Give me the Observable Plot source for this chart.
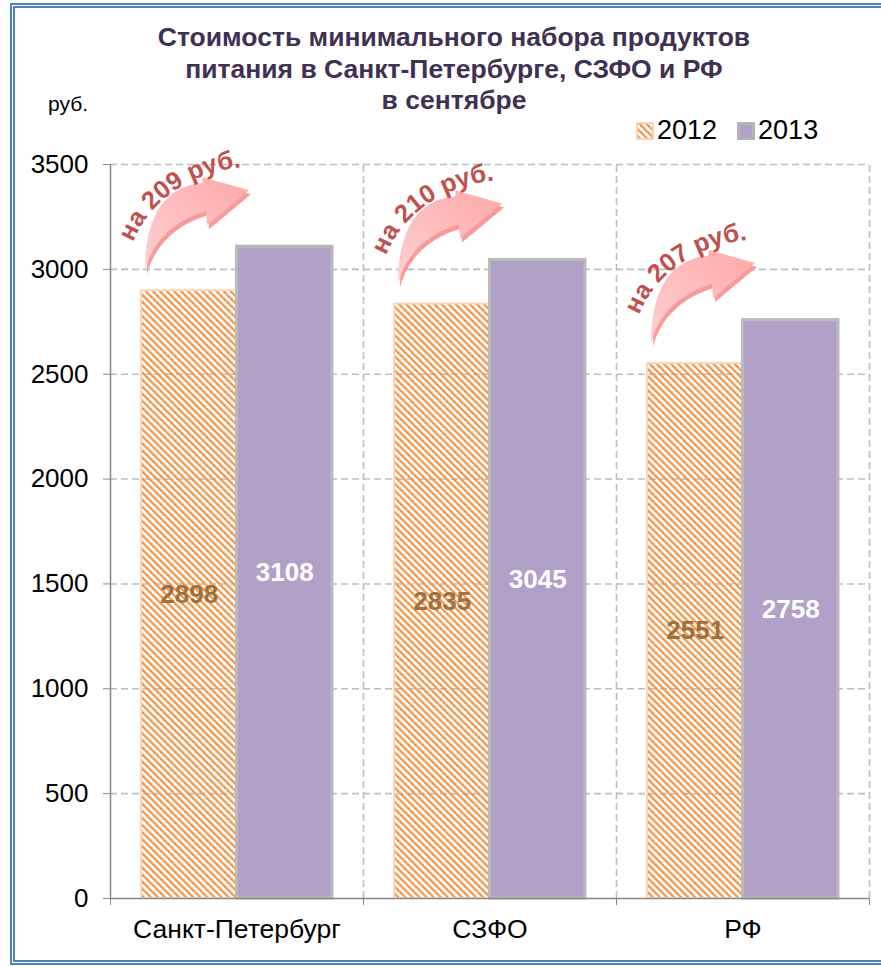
<!DOCTYPE html>
<html><head><meta charset="utf-8">
<script src="https://cdn.jsdelivr.net/npm/d3@7"></script>
<script src="https://cdn.jsdelivr.net/npm/@observablehq/plot@0.6"></script>
<style>
html,body{margin:0;padding:0;overflow:hidden;background:#fff;}
#wrap{position:relative;width:881px;height:966px;overflow:hidden;font-family:"Liberation Sans",Arial,sans-serif;}
#frame{position:absolute;left:10px;top:3px;width:900px;height:962px;border:5px double #4f81bd;box-sizing:border-box;}
#title{position:absolute;left:0;top:22px;width:908px;text-align:center;font-weight:bold;font-size:26.5px;line-height:31.5px;color:#403152;}
#unit{position:absolute;left:48px;top:93px;font-size:21px;line-height:21px;color:#000;}
#legend{position:absolute;left:636px;top:117px;font-size:27px;line-height:27px;color:#000;display:flex;align-items:center;white-space:nowrap;}
#legend span.item{display:inline-flex;align-items:center;margin-right:20px;}
#legend svg{margin-right:3px;}
#chart{position:absolute;left:0;top:140px;}
</style></head>
<body>
<svg width="0" height="0" style="position:absolute">
  <defs>
    <pattern id="hatch" patternUnits="userSpaceOnUse" width="5" height="5" patternTransform="rotate(-45)">
      <rect x="0" y="0" width="2.3" height="5" fill="#f39a50"></rect>
      <rect x="0.4" y="1" width="1.5" height="1.4" fill="#ee8030"></rect>
    </pattern>
    <linearGradient id="arrowGrad" x1="0" y1="1" x2="1" y2="0">
      <stop offset="0" stop-color="#ffd0d0"></stop>
      <stop offset="1" stop-color="#ffa9a9"></stop>
    </linearGradient>
  </defs>
</svg>
<div id="wrap">
  <div id="frame"></div>
  <div id="title"></div>
  <div id="unit"></div>
  <div id="legend"></div>
  <div id="chart"></div>
</div>
<script>
// ---- data ----
const titleLines = ["Стоимость минимального набора продуктов", "питания в Санкт-Петербурге, СЗФО и РФ", "в сентябре"];
const unitLabel = "руб.";
const categories = ["Санкт-Петербург", "СЗФО", "РФ"];
const years = ["2012", "2013"];
const values2012 = [2898, 2835, 2551];
const values2013 = [3108, 3045, 2758];
const increases = [209, 210, 207];
const yTicks = [0, 500, 1000, 1500, 2000, 2500, 3000, 3500];

// ---- html text ----
document.getElementById("title").innerHTML = titleLines.join("<br>");
document.getElementById("unit").textContent = unitLabel;
const legend = document.getElementById("legend");
legend.innerHTML =
  `<span class="item"><svg width="18" height="18"><rect x="1" y="1" width="16" height="16" fill="url(#hatch)" stroke="#fcd3b2" stroke-width="2"></rect></svg>${years[0]}</span>` +
  `<span class="item"><svg width="18" height="18"><rect x="1.5" y="1.5" width="15" height="15" fill="#b1a0c7" stroke="#b4b4b4" stroke-width="3"></rect></svg>${years[1]}</span>`;

// ---- chart ----
const rows2012 = categories.map((c, i) => ({cat: c, value: values2012[i]}));
const rows2013 = categories.map((c, i) => ({cat: c, value: values2013[i]}));

const W = 881, H = 826, mL = 110, mR = 12, mT = 24, mB = 68;
const bw = (W - mL - mR) / categories.length;
const groupPad = 31;
const barW = (bw - 2 * groupPad) / 2;
const gridStyle = {stroke: "#bdbdbd", strokeOpacity: 1, strokeDasharray: "7,4", strokeWidth: 1.6};
const axisColor = "#878787";

// Arrow shape (local coordinates, tail at origin)
const arrowPath = "M0,0 C0,-60 25,-85 57,-87 L58,-93 L104,-80 L62,-45 L61,-59 C30,-50 8,-30 0,0 Z";

function arrows(index, scales, values, dims) {
  const x = scales.x, y = scales.y;
  const g = d3.create("svg:g");
  categories.forEach((c, i) => {
    const tx = x(c) + groupPad + 4;
    const ty = y(values2012[i]) - 20;
    const a = g.append("g").attr("transform", `translate(${tx},${ty})`);
    a.append("path").attr("d", arrowPath).attr("fill", "#f79a9a").attr("transform", "translate(2,4)");
    a.append("path").attr("d", arrowPath).attr("fill", "url(#arrowGrad)");
    const rx = 128, ry = 112, a0 = 199 * Math.PI / 180, a1 = 300 * Math.PI / 180;
    // start point of text baseline relative to arrow tail
    const sx = -12, sy = -28;
    const cx = sx - rx * Math.cos(a0), cy = sy - ry * Math.sin(a0);
    const id = "arcText" + i;
    a.append("path").attr("id", id).attr("fill", "none")
      .attr("d", `M${sx},${sy} A${rx},${ry} 0 0 1 ${cx + rx * Math.cos(a1)},${cy + ry * Math.sin(a1)}`);
    a.append("text")
      .attr("font-family", '"Liberation Sans", Arial, sans-serif')
      .attr("font-size", 25.5).attr("font-weight", "bold").attr("fill", "#c0504d")
      .attr("text-anchor", "start")
      .append("textPath").attr("href", "#" + id).attr("text-anchor", "start")
      .text(`на ${increases[i]} руб.`);
  });
  return g.node();
}

const chart = Plot.plot({
  width: W, height: H,
  marginLeft: mL, marginRight: mR, marginTop: mT, marginBottom: mB,
  style: {fontFamily: '"Liberation Sans", Arial, sans-serif', fontSize: "24px", color: "#000", background: "transparent", overflow: "visible"},
  x: {domain: categories, padding: 0, axis: null, label: null},
  y: {domain: [0, 3500], axis: null, label: null},
  marks: [
    Plot.gridY({ticks: yTicks.filter(t => t > 0), ...gridStyle}),
    Plot.ruleX(categories.slice(1), {x: d => d, y1: () => 0, y2: () => 3500, dx: -bw / 2, ...gridStyle}),
    Plot.ruleX(categories.slice(-1), {x: d => d, y1: () => 0, y2: () => 3500, dx: bw / 2, ...gridStyle}),
    Plot.barY(rows2012, {x: "cat", y: "value", fill: "url(#hatch)", stroke: "#fcd6b8", strokeWidth: 2,
      insetLeft: groupPad, insetRight: groupPad + barW}),
    Plot.barY(rows2013, {x: "cat", y: "value", fill: "#b1a0c7", stroke: "#bababa", strokeWidth: 3,
      insetLeft: groupPad + barW, insetRight: groupPad}),
    Plot.ruleY([0], {stroke: axisColor, strokeWidth: 1.5}),
    Plot.ruleX(categories.slice(0, 1), {x: d => d, y1: () => 0, y2: () => 3500, dx: -bw / 2, stroke: axisColor, strokeWidth: 1.5}),
    Plot.axisY({ticks: yTicks, tickSize: 7, tickPadding: 15, tickFormat: d => String(d), stroke: axisColor, fill: "#000", fontSize: 26, label: null}),
    Plot.axisX({tickSize: 0, tickPadding: 21, fontSize: 26.5, fill: "#000", label: null}),
    Plot.axisX({tickSize: 7, tickFormat: () => "", dx: -bw / 2, stroke: axisColor, label: null}),
    Plot.axisX({ticks: categories.slice(-1), tickSize: 7, tickFormat: () => "", dx: bw / 2, stroke: axisColor, label: null}),
    Plot.text(rows2012, {x: "cat", y: d => d.value / 2, text: d => String(d.value), dx: -barW / 2,
      fill: "#a0703a", fontWeight: "bold", fontSize: 26}),
    Plot.text(rows2013, {x: "cat", y: d => d.value / 2, text: d => String(d.value), dx: barW / 2,
      fill: "#ffffff", fontWeight: "bold", fontSize: 26}),
    arrows
  ]
});
document.getElementById("chart").appendChild(chart);
</script>
</body></html>
